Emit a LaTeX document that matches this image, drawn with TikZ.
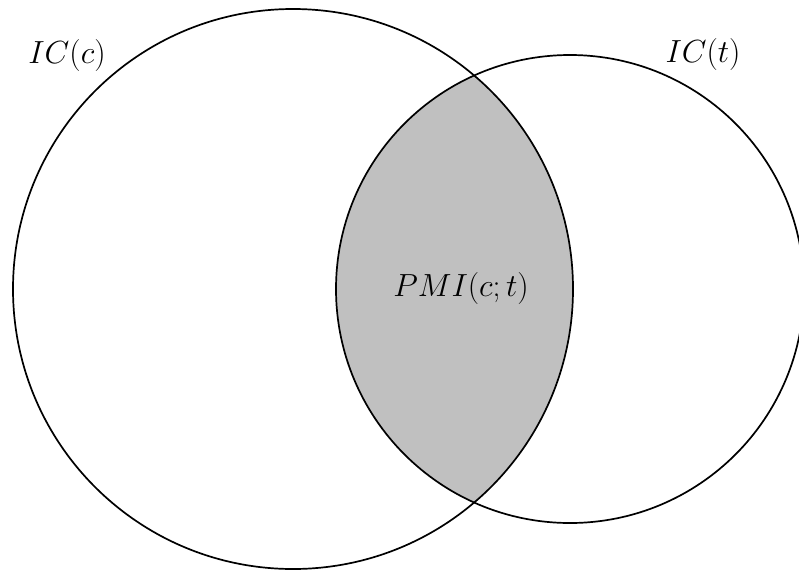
\documentclass[tikz,border=0pt]{standalone}
\definecolor{lensgray}{RGB}{192,192,192}
\tikzset{
  venn/.style={draw=black, line width=1.7pt},
  lbl/.style={font=\Huge, scale=1.286, inner sep=0pt}
}
\begin{document}
\begin{tikzpicture}[x=1pt,y=-1pt]
\useasboundingbox (0,0) rectangle (799,571);
\coordinate (cc) at (293,289);
\coordinate (ct) at (570,289);
\begin{scope}
  \clip (cc) circle[radius=280];
  \fill[lensgray] (ct) circle[radius=234];
\end{scope}
\draw[venn] (cc) circle[radius=280];
\draw[venn] (ct) circle[radius=234];
\node[lbl] (icc) at (67,55) {$IC(c)$};
\node[lbl] (ict) at (703,54) {$IC(t)$};
\node[lbl] (pmi) at (461,288) {$PMI(c;t)$};
\end{tikzpicture}
\end{document}
